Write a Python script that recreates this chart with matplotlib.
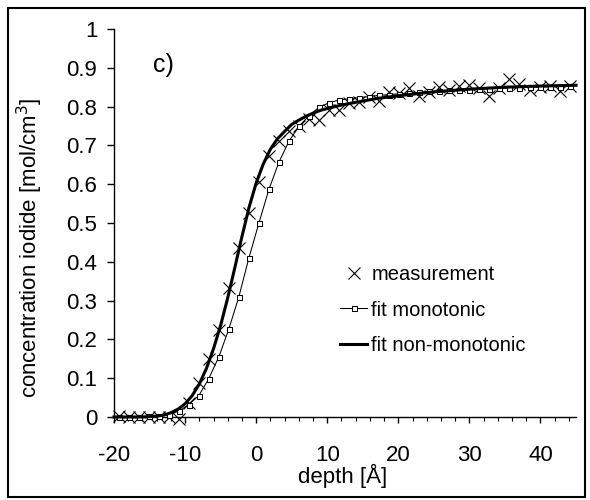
import matplotlib
matplotlib.use("Agg")
import matplotlib.pyplot as plt
from matplotlib.patches import Rectangle
from matplotlib.ticker import MultipleLocator, FuncFormatter

plt.rcParams.update({
    'font.family': ['Liberation Sans', 'DejaVu Sans'],
    'axes.unicode_minus': False,
})

# measured depths [A] (fit monotonic is evaluated at the same depths)
depth = [-19.35, -17.94, -16.53, -15.12, -13.71, -12.30, -10.89, -9.48, -8.07,
         -6.66, -5.25, -3.84, -2.43, -1.02, 0.39, 1.80, 3.21, 4.62, 6.03, 7.44,
         8.85, 10.26, 11.67, 13.08, 14.49, 15.90, 17.31, 18.72, 20.13, 21.54,
         22.95, 24.36, 25.77, 27.18, 28.59, 30.00, 31.41, 32.82, 34.23, 35.64,
         37.05, 38.46, 39.87, 41.28, 42.69, 44.10]

measurement = [0.002, 0.000, 0.001, 0.001, -0.001, 0.000, -0.004, 0.035, 0.088,
               0.149, 0.224, 0.332, 0.435, 0.525, 0.605, 0.672, 0.712, 0.738, 0.750, 0.768,
               0.765, 0.792, 0.790, 0.808, 0.813, 0.824, 0.815, 0.838, 0.836, 0.849,
               0.827, 0.838, 0.850, 0.843, 0.853, 0.855, 0.847, 0.828, 0.847, 0.871,
               0.857, 0.844, 0.851, 0.853, 0.841, 0.853]

fit_monotonic = [0.000, 0.000, 0.001, 0.002, 0.003, 0.006, 0.015, 0.032, 0.055,
                 0.099, 0.155, 0.227, 0.310, 0.410, 0.500, 0.587, 0.657, 0.711, 0.749, 0.777,
                 0.798, 0.810, 0.817, 0.820, 0.823, 0.826, 0.829, 0.831, 0.833, 0.835,
                 0.837, 0.839, 0.840, 0.842, 0.843, 0.844, 0.845, 0.846, 0.847, 0.848,
                 0.849, 0.850, 0.850, 0.851, 0.851, 0.852]

# non-monotonic fit
depth_nm = [-20, -16, -14, -13, -12, -11, -10, -9, -8, -7, -6, -5, -4, -3, -2, -1,
            0, 1, 2, 3, 4, 5, 6, 7, 8, 9, 10, 12, 14, 17, 20, 25, 30, 35, 40, 45]
fit_nonmonotonic = [0.000, 0.000, 0.002, 0.005, 0.011, 0.020, 0.034, 0.055, 0.085,
                    0.125, 0.176, 0.236, 0.307, 0.385, 0.465, 0.540, 0.603, 0.652,
                    0.690, 0.717, 0.736, 0.754, 0.765, 0.775, 0.783, 0.790, 0.795,
                    0.804, 0.811, 0.821, 0.828, 0.838, 0.845, 0.850, 0.853, 0.855]

fig = plt.figure(figsize=(5.9, 5.0), dpi=100)
ax = fig.add_axes([114 / 590, 83 / 500, 462 / 590, 388 / 500])

ax.plot(depth, measurement, ls='none', marker='x', ms=8, mew=0.8, color='black',
        clip_on=False, label='measurement', zorder=3)
ax.plot(depth, fit_monotonic, color='black', lw=0.75, marker='s', ms=3.6,
        mfc='white', mec='black', mew=0.75, clip_on=False, label='fit monotonic', zorder=4)
ax.plot(depth_nm, fit_nonmonotonic, color='black', lw=2.2, clip_on=False,
        label='fit non-monotonic', zorder=5)

ax.set_xlim(-20, 45)
ax.set_ylim(0, 1)
ax.xaxis.set_major_locator(MultipleLocator(10))
ax.xaxis.set_minor_locator(MultipleLocator(2))
ax.yaxis.set_major_locator(MultipleLocator(0.1))
ax.yaxis.set_major_formatter(FuncFormatter(lambda v, p: f"{v:g}"))

for s in ['top', 'right']:
    ax.spines[s].set_visible(False)
for s in ['left', 'bottom']:
    ax.spines[s].set_linewidth(1.0)

ax.tick_params(axis='y', direction='out', length=5, width=1, pad=7, labelsize=16)
ax.tick_params(axis='x', which='major', direction='out', length=4.5, width=1, pad=15.5, labelsize=16)
ax.tick_params(axis='x', which='minor', direction='out', length=3, width=0.8)

ax.set_xlabel("depth [Å]", fontsize=16)
ax.xaxis.set_label_coords(0.495, -0.122)
ax.set_ylabel("concentration iodide [mol/cm$^3$]", fontsize=16)
ax.yaxis.set_label_coords(-0.15, 0.436)

ax.text(-14.55, 0.907, "c)", fontsize=18, ha='left', va='center')

ax.legend(loc='upper left', bbox_to_anchor=(340 / 590, 1 - 265 / 500),
          bbox_transform=fig.transFigure, frameon=False, fontsize=14.5,
          handlelength=1.35, handletextpad=0.2, borderpad=0, borderaxespad=0,
          labelspacing=0.82, numpoints=1)

fig.patches.append(Rectangle((8 / 590, 3 / 500), 577 / 590, 489 / 500,
                             transform=fig.transFigure, fill=False, lw=1.5, ec='black'))

fig.savefig("out.png", dpi=100)
